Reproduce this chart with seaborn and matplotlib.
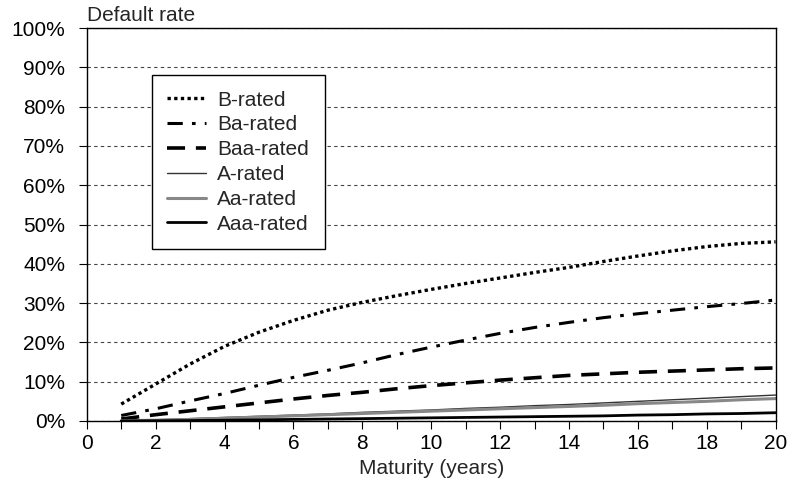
import matplotlib
matplotlib.use("Agg")
import matplotlib.pyplot as plt
import pandas as pd
import seaborn as sns
from matplotlib.ticker import MultipleLocator, FuncFormatter

# maturities in years
maturity = list(range(1, 21))

# cumulative default rates (%)
b_rated = [4.3, 9.4, 14.5, 19.0, 22.6, 25.6, 28.2, 30.2, 31.9, 33.5,
           35.0, 36.4, 37.8, 39.1, 40.6, 42.0, 43.3, 44.4, 45.2, 45.6]
ba_rated = [1.4, 3.1, 5.1, 7.0, 9.1, 11.1, 12.9, 14.8, 16.9, 18.8,
            20.6, 22.3, 23.8, 25.1, 26.3, 27.3, 28.2, 29.1, 29.9, 30.8]
baa_rated = [0.5, 1.6, 2.6, 3.6, 4.6, 5.6, 6.5, 7.3, 8.2, 9.0,
             9.7, 10.4, 11.0, 11.6, 12.0, 12.4, 12.7, 13.0, 13.3, 13.5]
a_rated = [0.1, 0.3, 0.6, 0.9, 1.2, 1.5, 1.8, 2.2, 2.5, 2.8,
           3.2, 3.5, 3.9, 4.2, 4.6, 5.0, 5.4, 5.8, 6.2, 6.6]
aa_rated = [0.05, 0.2, 0.4, 0.7, 1.0, 1.3, 1.6, 1.9, 2.2, 2.5,
            2.8, 3.1, 3.4, 3.7, 4.0, 4.4, 4.7, 5.0, 5.4, 5.7]
aaa_rated = [0.0, 0.05, 0.1, 0.2, 0.3, 0.4, 0.5, 0.6, 0.7, 0.8,
             0.9, 1.0, 1.1, 1.2, 1.3, 1.5, 1.6, 1.8, 1.9, 2.1]

series = {
    "B-rated": b_rated,
    "Ba-rated": ba_rated,
    "Baa-rated": baa_rated,
    "A-rated": a_rated,
    "Aa-rated": aa_rated,
    "Aaa-rated": aaa_rated,
}

# line styles per rating
styles = {
    "B-rated": dict(color="black", lw=2.4, ls=(0, (1, 1))),
    "Ba-rated": dict(color="black", lw=2.2, ls=(0, (5, 3, 1.2, 3))),
    "Baa-rated": dict(color="black", lw=2.6, ls=(0, (5, 3))),
    "A-rated": dict(color="#333333", lw=1.0, ls="-"),
    "Aa-rated": dict(color="#888888", lw=2.2, ls="-"),
    "Aaa-rated": dict(color="black", lw=2.0, ls="-"),
}

FS = 15

sns.set_style("white")
plt.rcParams['font.family'] = ['Liberation Sans', 'DejaVu Sans']

fig = plt.figure(figsize=(7.89, 4.82), dpi=100)
ax = fig.add_axes([0.110, 0.1266, 0.873, 0.815])

for name, vals in series.items():
    df = pd.DataFrame({"maturity": maturity, "rate": [v / 100 for v in vals]})
    st = styles[name]
    sns.lineplot(data=df, x="maturity", y="rate", ax=ax, color=st["color"],
                 linewidth=st["lw"], linestyle=st["ls"], label=name)

ax.set_xlim(0, 20)
ax.set_ylim(0, 1)
ax.xaxis.set_major_locator(MultipleLocator(2))
ax.xaxis.set_minor_locator(MultipleLocator(1))
ax.yaxis.set_major_locator(MultipleLocator(0.1))
ax.yaxis.set_major_formatter(FuncFormatter(lambda v, p: f"{v * 100:.0f}%"))
ax.tick_params(axis="both", which="both", direction="out", length=5.5, width=0.8,
               colors="black", labelsize=FS, bottom=True, left=True)
ax.tick_params(axis="x", which="major", pad=4)
ax.tick_params(axis="y", which="major", pad=10)

for s in ax.spines.values():
    s.set_visible(True)
    s.set_color("black")
    s.set_linewidth(1.0)

ax.grid(axis="y", color="#444444", ls=(0, (3, 3)), lw=0.8)
ax.set_axisbelow(True)

ax.set_xlabel("Maturity (years)", fontsize=FS, labelpad=4)
ax.set_ylabel("")
ax.text(0.0, 1.008, "Default rate", transform=ax.transAxes, fontsize=FS,
        ha="left", va="bottom")

leg = ax.legend(loc="upper left", bbox_to_anchor=(0.094, 0.881), borderaxespad=0,
                fontsize=FS, frameon=True, fancybox=False, edgecolor="black",
                handlelength=1.85, handletextpad=0.55, labelspacing=0.28,
                borderpad=0.75)
leg.get_frame().set_linewidth(1.0)
leg.get_frame().set_alpha(1)

fig.savefig("out.png", dpi=100)
